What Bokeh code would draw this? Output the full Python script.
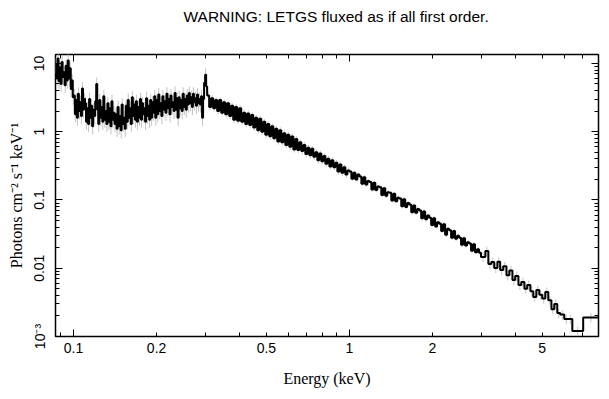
import numpy as np
from bokeh.plotting import figure
from bokeh.models import Range1d, LogAxis, FixedTicker
from bokeh.embed import file_html
from bokeh.resources import INLINE

title_text = "WARNING: LETGS fluxed as if all first order."
x_label = "Energy (keV)"
y_label = "Photons cm\u207b\u00b2 s\u207b\u00b9 keV\u207b\u00b9"

x_ticks = [0.1, 0.2, 0.5, 1, 2, 5]
x_tick_labels = ["0.1", "0.2", "0.5", "1", "2", "5"]
x_decades = [0.1, 1]
x_minor_ticks = [0.09, 0.2, 0.3, 0.4, 0.5, 0.6, 0.7, 0.8, 0.9, 2, 3, 4, 5, 6, 7, 8]
y_ticks = [0.001, 0.01, 0.1, 1, 10]
y_tick_labels = ["10\u207b\u00b3", "0.01", "0.1", "1", "10"]
y_minor_ticks = [2e-3, 3e-3, 4e-3, 5e-3, 6e-3, 7e-3, 8e-3, 9e-3,
                 0.02, 0.03, 0.04, 0.05, 0.06, 0.07, 0.08, 0.09,
                 0.2, 0.3, 0.4, 0.5, 0.6, 0.7, 0.8, 0.9,
                 2, 3, 4, 5, 6, 7, 8, 9]

# Segment A: 0.086 - 0.305 keV (fine bins)
seg_a_range = (0.086, 0.305)
seg_a_flux = [
    9.5, 6.0, 11.8, 5.5, 8.7, 5.0, 10.5, 6.3, 7.4, 4.8, 9.2, 5.6, 11.0, 6.0,
    8.5, 4.2, 5.6, 3.2,
    3.4, 1.8, 2.9, 1.6, 3.6, 2.0, 2.7, 1.7, 4.3, 2.1, 3.0,
    2.6, 1.4, 2.2, 1.3, 3.0, 1.6, 2.4, 1.2, 2.1, 1.7, 2.8, 5.0, 2.1, 1.3, 2.9,
    1.6, 2.3, 1.4, 3.3, 1.5, 2.0, 1.3, 2.6, 1.4, 2.2, 1.2, 2.8, 1.5, 1.9, 1.3,
    1.8, 1.1, 2.3, 1.2, 1.7, 1.05, 2.5, 1.3, 1.6, 1.1,
    2.4, 1.4, 2.9, 1.6, 2.2, 1.3, 3.2, 1.7, 2.5, 1.5, 2.8, 1.4, 2.3, 1.6, 3.0,
    1.5, 2.6, 1.8, 2.2, 1.4, 3.1, 1.7, 2.4, 1.5, 2.9, 1.6, 2.7, 1.9, 3.3, 1.6,
    2.9, 1.8, 3.5, 2.0, 2.6, 1.7, 3.3, 2.1, 2.8, 1.9, 3.6, 2.2, 3.0, 1.8, 3.4,
    2.3, 2.7, 2.0, 3.7, 2.1, 3.1, 1.6, 3.2, 2.2, 2.9, 2.0, 3.6, 2.3, 3.0, 2.1,
    3.4, 2.5, 3.7, 2.6, 3.2, 2.3, 3.6, 2.7, 3.1, 2.4, 3.5, 2.6, 3.0, 2.5, 3.3,
    1.6, 3.0, 5.2, 6.8, 4.6,
]
# Segment B: 0.305 - 1.0 keV
seg_b_range = (0.305, 1.0)
seg_b_flux = [
    3.4, 2.3, 3.1, 2.2, 2.9, 2.0, 2.9, 1.9, 2.7, 1.8,
    2.6, 1.7, 2.4, 1.5, 2.3, 1.45, 2.2, 1.4, 1.9, 1.3,
    1.85, 1.25, 1.75, 1.15, 1.6, 1.05, 1.55, 1.0, 1.4, 0.9,
    1.3, 0.86, 1.2, 0.8, 1.1, 0.72, 1.05, 0.7, 0.95, 0.64,
    0.9, 0.6, 0.85, 0.55, 0.78, 0.54, 0.7, 0.52, 0.64, 0.47,
    0.58, 0.45, 0.56, 0.43, 0.5, 0.38, 0.48, 0.37, 0.44, 0.34,
    0.4, 0.31, 0.38, 0.3, 0.35, 0.26, 0.33, 0.25, 0.3, 0.235,
    0.27,
]
# Segment C: 1.0 - 3.0 keV
seg_c_range = (1.0, 3.0)
seg_c_flux = [
    0.26, 0.205, 0.25, 0.2, 0.235, 0.22, 0.172, 0.215, 0.168, 0.19,
    0.183, 0.142, 0.178, 0.14, 0.158, 0.153, 0.118, 0.148, 0.115, 0.13,
    0.127, 0.098, 0.123, 0.096, 0.108, 0.105, 0.081, 0.102, 0.079, 0.09,
    0.086, 0.066, 0.083, 0.065, 0.074, 0.07, 0.054, 0.068, 0.052, 0.059,
    0.055, 0.043, 0.054, 0.041, 0.047, 0.045, 0.035, 0.044, 0.031, 0.038,
    0.036, 0.028, 0.035, 0.027, 0.03, 0.028, 0.022, 0.0275, 0.0215, 0.024,
    0.023, 0.018, 0.0225, 0.0172, 0.019, 0.0168,
]
# Segment D: 3.0 - 8.0 keV (wide bins)
seg_d_edges = [3.0, 3.11, 3.19, 3.27, 3.35, 3.44, 3.52, 3.61, 3.71, 3.80, 3.90,
               3.99, 4.10, 4.20, 4.31, 4.41, 4.53, 4.64, 4.76, 4.88, 5.00, 5.13,
               5.26, 5.40, 5.53, 5.67, 5.81, 6.01, 6.22, 6.43, 7.04, 8.0]
seg_d_flux = [0.0146, 0.0179, 0.0115, 0.0123, 0.0101, 0.0124, 0.0094, 0.0107,
              0.0079, 0.0093, 0.0067, 0.0077, 0.0057, 0.0063, 0.0050, 0.0057,
              0.0046, 0.0038, 0.0048, 0.0041, 0.0036, 0.0045, 0.0034, 0.0025,
              0.0030, 0.0022, 0.0021, 0.0018, 0.0018, 0.0012, 0.0019]
err_frac = [0.24, 0.1, 0.07, 0.16]

segments = [
    (np.geomspace(*seg_a_range, len(seg_a_flux) + 1), np.array(seg_a_flux), err_frac[0]),
    (np.geomspace(*seg_b_range, len(seg_b_flux) + 1), np.array(seg_b_flux), err_frac[1]),
    (np.geomspace(*seg_c_range, len(seg_c_flux) + 1), np.array(seg_c_flux), err_frac[2]),
    (np.array(seg_d_edges), np.array(seg_d_flux), err_frac[3]),
]

step_x, step_y, ex, elo, ehi = [], [], [], [], []
for edges, flux, ef in segments:
    step_x.append(np.repeat(edges, 2)[1:-1])
    step_y.append(np.repeat(flux, 2))
    ex.append(np.sqrt(edges[:-1] * edges[1:]))
    elo.append(flux * (1 - ef))
    ehi.append(flux * (1 + ef))
step_x = np.concatenate(step_x); step_y = np.concatenate(step_y)
ex = np.concatenate(ex); elo = np.concatenate(elo); ehi = np.concatenate(ehi)

p = figure(width=609, height=399, x_axis_type="log", y_axis_type="log",
           x_range=Range1d(0.086, 8.0), y_range=Range1d(1e-3, 13.5),
           output_backend="svg", toolbar_location=None,
           min_border_left=55, min_border_right=11, min_border_top=54,
           min_border_bottom=63)
p.grid.visible = False
p.outline_line_color = "black"
p.outline_line_width = 1.5
p.background_fill_color = "white"
p.border_fill_color = "white"

p.title.text = title_text
p.title.align = "left"
p.title.offset = 128
p.title.text_font = "Liberation Sans"
p.title.text_font_size = "15.5px"
p.title.text_font_style = "normal"
p.title.text_color = "black"
p.title.standoff = 0


def tick_style(ax):
    ax.axis_line_color = None
    ax.major_tick_out = 0
    ax.minor_tick_out = 0
    ax.major_tick_in = 7
    ax.minor_tick_in = 4
    ax.major_tick_line_color = "black"
    ax.minor_tick_line_color = "black"
    ax.major_tick_line_width = 1
    ax.minor_tick_line_width = 1


def hide_labels(ax):
    ax.major_label_text_font_size = "1px"
    ax.major_label_text_alpha = 0
    ax.major_label_standoff = 0


# bottom: ticks only
xb = p.xaxis[0]
xb.ticker = FixedTicker(ticks=x_decades, minor_ticks=x_minor_ticks)
tick_style(xb)
hide_labels(xb)

# bottom: labels
xl = LogAxis(ticker=FixedTicker(ticks=x_ticks, minor_ticks=[]))
xl.axis_line_color = None
xl.major_tick_in = 0
xl.major_tick_out = 0
xl.minor_tick_in = 0
xl.minor_tick_out = 0
xl.major_label_overrides = dict(zip(x_ticks, x_tick_labels))
xl.major_label_text_font = "Liberation Sans"
xl.major_label_text_font_size = "14px"
xl.major_label_text_color = "black"
xl.major_label_standoff = 6
xl.axis_label = x_label
xl.axis_label_text_font = "Liberation Serif"
xl.axis_label_text_font_size = "16px"
xl.axis_label_text_font_style = "normal"
xl.axis_label_text_color = "black"
xl.axis_label_standoff = 14
p.add_layout(xl, "below")

# top mirror; a blank axis label keeps a gap between frame and title
xt = LogAxis(ticker=FixedTicker(ticks=x_decades, minor_ticks=x_minor_ticks))
tick_style(xt)
hide_labels(xt)
xt.axis_label = " "
xt.axis_label_text_font_size = "15px"
xt.axis_label_standoff = 10
p.add_layout(xt, "above")

# left
yl = p.yaxis[0]
yl.ticker = FixedTicker(ticks=y_ticks, minor_ticks=y_minor_ticks)
tick_style(yl)
yl.major_label_overrides = dict(zip(y_ticks, y_tick_labels))
yl.major_label_orientation = "vertical"
yl.major_label_text_font = "Liberation Sans"
yl.major_label_text_font_size = "14px"
yl.major_label_text_color = "black"
yl.major_label_standoff = 8
yl.axis_label = y_label
yl.axis_label_text_font = "Liberation Serif"
yl.axis_label_text_font_size = "16px"
yl.axis_label_text_font_style = "normal"
yl.axis_label_text_color = "black"
yl.axis_label_standoff = 4

# right mirror
yr = LogAxis(ticker=FixedTicker(ticks=y_ticks, minor_ticks=y_minor_ticks))
tick_style(yr)
hide_labels(yr)
p.add_layout(yr, "right")

p.segment(x0=ex, y0=elo, x1=ex, y1=ehi, line_color="#c4c4c4", line_width=1)
p.line(step_x, step_y, line_color="black", line_width=2)

open("out.html", "w").write(file_html(p, INLINE))
